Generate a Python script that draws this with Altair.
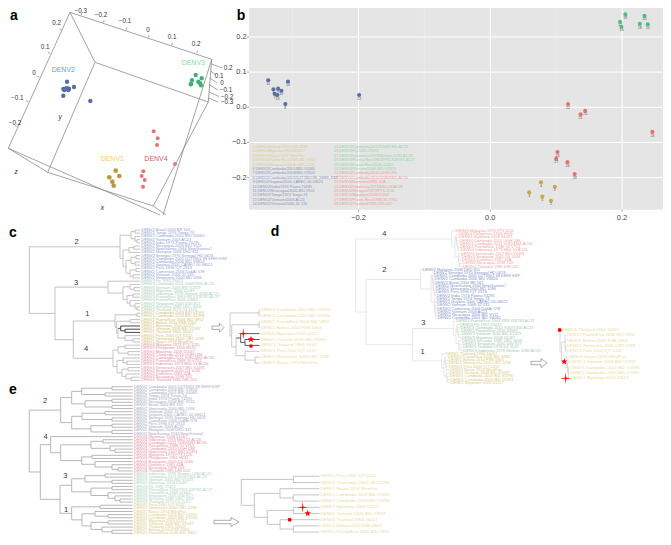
import altair as alt
import pandas as pd

F = "Liberation Sans"

# ---------- panel a: projected 3-D scatter ----------
a_box = [(70,12.3,211.7,59.3),(70,12.3,8.3,148.3),(70,12.3,95,62.3),(95,62.3,208.3,102),(95,62.3,47.7,172.3),
         (8.3,148.3,47.7,172.3),(8.3,148.3,160,215),(47.7,172.3,153.3,206),(153.3,206,208.3,102),
         (211.7,59.3,163,215),(208.3,102,211.7,59.3),(153.3,206,166,215)]
a_ticks = [(81,15,82,12.5),(103.3,22.7,104.3,20),(126,30,127,27.5),(148.3,37.3,149.3,35),(171.7,45,172.7,42.5),(196.7,53,197.7,50.5),
           (61.7,30,59.5,29),(50,53.3,47.8,52.3),(39.3,77.3,37,76.3),(28.3,101.7,26,100.7),(17.3,126.7,15,125.7),
           (211.7,64,222,68),(210.7,71,216,75),(210,78,217,83),(209.7,85,218,90),(209,92,219,96.5),(208.5,98,218,102)]
a_tick_labels = [("−0.3",80.7,11),("−0.2",101,14.7),("−0.1",125,20.7),("0",148,30),("0.1",172,37),("0.2",196,44.3),
                 ("0.2",56.7,22.7),("0.1",45,46.7),("0",34,73.3),("−0.1",17.3,98.3),("−0.2",15,123),
                 ("0.2",228,67.7),("0.1",219,75.7),("0",222,83.3),("−0.1",226,90.3),("−0.2",227,96.7),("−0.3",227,102)]
a_axis_names = [("y",60,116.7),("z",16,171.7),("x",102.3,208.3)]
a_groups = [("DENV2",63.3,70,"#5b9fd8"),("DENV3",193.3,62.7,"#86dba6"),("DENV1",112.3,159.3,"#f5cd72"),("DENV4",156,159.3,"#c0656a")]
a_blue = [(67,81.7),(74,87),(63.3,89),(65.3,88.7),(67,88.3),(68.3,90),(64.3,90),(69,88.7),(63.3,95.7),(90.3,101)]
a_green = [(195.7,75),(201.7,78.3),(192,80.3),(191,84),(198.3,81.7),(200,83.3),(201,85.3),(190.7,84.3)]
a_gold = [(115.7,170.7),(119.3,176),(109.3,177.3),(112.3,181.7),(113.7,185.7)]
a_red = [(153.7,131.3),(157.7,138.3),(157,145),(175,164),(143.3,171.3),(141.7,176),(144.7,180),(143,186.7)]

# ---------- panel b: MDS coordinates ----------
b_x = [-0.337,-0.329,-0.327,-0.322,-0.323,-0.317,-0.307,-0.311,-0.199,
       0.205,0.197,0.199,0.227,0.234,0.239,
       0.118,0.137,0.144,0.246,0.102,0.100,0.117,0.128,
       0.077,0.098,0.059,0.079,0.092]
b_y = [0.077,0.051,0.038,0.053,0.035,0.047,0.073,0.009,0.035,
       0.264,0.243,0.229,0.237,0.260,0.236,
       0.009,-0.020,-0.010,-0.070,-0.127,-0.146,-0.156,-0.190,
       -0.213,-0.226,-0.242,-0.254,-0.266]
b_id = [11,6,7,9,13,10,14,8,12, 19,17,16,18,20,15, 22,21,25,26,23,27,24,28, 4,2,3,5,1]
b_col = ["#5470a8"]*9 + ["#4cc07c"]*6 + ["#ea7070"]*8 + ["#c9a84a"]*5
b_leg1 = ["1 DENV1/Bolivia/2010-FSB-3363","2 DENV1/Myanmar/2005/61117","3 DENV1/Nauru/1974 WestPac","4 DENV1/Puerto Rico/2006-BID-V852",
          "5 DENV1/Venezuela/2000-OBT-1298","6 DENV2/Cambodia/2001/BID-V4065","7 DENV2/Cambodia/2006/BID-V3824",
          "8 DENV2/Cambodia/2005/D2T3901/98_KH99_KSP","9 DENV2/Guyana/2000-CAREC-00-08021","10 DENV2/India/1974 Poona 74295",
          "11 DENV2/Nicaragua/2006-BID-V511","12 DENV2/Tonga/1974 Tonga-74","13 DENV2/Vietnam/2003-AC21","14 DENV2/Vietnam/2006-32-135"]
b_leg2 = ["15 DENV3/Cambodia/2011/V0097300-AC23","16 DENV3/Fiji/1992-29472","17 DENV3/Indonesia/1978/Sleman-1280-AC25",
          "18 DENV3/Puerto-Rico/1963/PR3-328782-AC27","19 DENV3/Puerto Rico/2006-42665","20 DENV3/Vietnam/2006-BID-V1329",
          "21 DENV4/Cambodia/2010-UGH-U86","22 DENV4/Cambodia/2011/V0824361-AC30","23 DENV4/Dominica/1981-42A",
          "24 DENV4/Indonesia/1973/M60-53-AC26","25 DENV4/Malaysia/1973/P73-1120","26 DENV4/Myanmar/2008/61067",
          "27 DENV4/Puerto-Rico/1988-90-V751","28 DENV4/Thailand/1985-D85-052"]
b_leg_cols1 = ["#e0c987"]*5 + ["#8796bd"]*9
b_leg_cols2 = ["#95d5a8"]*6 + ["#ee9c9c"]*8
b_xticks = [-0.2, 0.0, 0.2]
b_xminor = [-0.3, -0.1, 0.1]
b_yticks = [-0.2, -0.1, 0.0, 0.1, 0.2]
b_xrange = [-0.366, 0.2621]
b_yrange = [-0.291, 0.2823]

# ---------- tree leaves ----------
B = ["Brazil 2004 BR 161","Tonga 1974 Tonga 74","Cambodia 2001 BID V4065","Vietnam 2003 AC21","India 1974 Poona 74295",
     "Nicaragua 2006 BID V511","NewGuinea 1944 NewGuineaC","Malaysia 2008 DKD 811","Senegal 1970 Senegal HD 0674",
     "Cambodia 2005 D2T3901 98 KH99 KSP","Cambodia 2006 BID V3824","Guyana 2000 CAREC 00 08021","Peru 1996 IQT 2913",
     "Cameroon 2006 DakAr 578","Vietnam 2006 32 135","Venezuela 2000 MD 1096"]
G = ["Fiji 1992 29472","Cambodia 2011 V0097300 AC23","Vietnam 2006 BID V1329","Myanmar 2008 61087","Indonesia 1978 Sleman 1280 AC25",
     "PuertoRico 1963 PR3 328782 AC27","PuertoRico 2006 42665","Singapore 2005 D30 817","SriLanka 1989 UNC 3009","Thailand 1973 D3 1120"]
Y = ["Cambodia 2003 BID V1991","Cambodia 2003 BID V1996","PuertoRico 2006 BID V852","Bolivia 2010 FSB 3363","Myanmar 2005 61117",
     "Vietnam 2008 BID V1937","Thailand 1964 16007","Peru 2000 IQT 6152","Venezuela 2000 OBT 1298","Nauru 1974 WestPac"]
R = ["Malaysia 1973 P73 1120","Philippines 1956 H241","Myanmar 2008 61067","Cambodia 2010 UGH U86","Cambodia 2011 V0824361 AC30",
     "PuertoRico 1988 90 V751","Indonesia 1973 M60 53 AC26","Venezuela 2007 BID V2491","Singapore 2005 D4 1036","Dominica 1981 42A",
     "Nicaragua 1998 703","Thailand 1985 D85 052"]
NAMES = {"B": ("DENV2", B), "G": ("DENV3", G), "Y": ("DENV1", Y), "R": ("DENV4", R)}

c_tree = [29.3,
  [120, [131,[135,"B0","B1"],[135,"B2",[137,"B3","B4"]]],
        [123,[129,[134,"B5","B6"],"B7"],[126,[131,[136,"B8","B9"],[135,"B10","B11"]],[130,[136,"B12","B13"],[133,"B14","B15"]]]]],
  [55,
    [108,"G0",[123,[130,"G1",[134,"G2","G3"]],[127,[133,"G4","G5"],[130,"G6",[135,"G7",[137,"G8","G9"]]]]]],
    [73.3,
      [115,[137,"Y0","Y1"],[116.7,[130,"Y2","Y3"],[118,[120.7,"Y4",[125,"Y5","Y6"]],[125,"Y7",[133,"Y8","Y9"]]]]],
      [113,[118,[125,"R0","R1"],[128,"R2","R3"]],[117,[123,"R4",[127,"R5","R6"]],[122,[128,"R7","R8"],[126,"R9",[131,"R10","R11"]]]]]]]]
c_inset = [230,[259,"Y0","Y1"],[231.7,[259,"Y2","Y3"],[236,[240.7,"Y4",[245,"Y5","Y6"]],[245,"Y7",[255,"Y8","Y9"]]]]]

d_red_leaves = ["R0","R1","R2","R3","R4","R5","R6","R7","R8","R9","R10","R11"]
d_red_tips = [455,458,458.5,459,459.5,459.5,460,460.5,461,461.5,462,462.5]
d_red_nodes = [451.7,455,456,456.5,457,457.5,458,458.5,459,459.5,460]
d_blue_leaves = ["B7","B8","B9","B10","B0","B6","B15","B12","B4","B1","B11","B14","B13","B3","B5","B2"]
d_blue_tips = [422,433,433.5,434,434,435,435,435.5,436,436,436,436.5,436.5,437,437,437]
d_blue_nodes = [420.7,431,432,432.5,433,433,433.5,434,434.5,434.5,435,435,435.5,435.5,436]
d_green_leaves = ["G5","G0","G1","G6","G2","G3","G8","G7","G9","G4"]
d_green_tips = [455.5,459,460,460.5,461,461,461.5,462,462,462.5]
d_green_nodes = [453.3,456,457,457.5,458,458.5,459,459.5,460]
d_gold_leaves = ["Y6","Y2","Y3","Y8","Y7","Y9","Y5","Y1","Y0","Y4"]
d_gold_tips = [445,447.5,448,448,448.5,449,449.5,449.5,450,450]
d_gold_nodes = [441.7,444,445,445.5,446,446.5,447,447.5,448]

d_inset = [560,("Y6",561.5),[561.5,[565,("Y2",566),("Y3",566),[565.5,("Y8",566),("Y7",566)]],
           [566,("Y9",567.7),[567.5,("Y5",570),[568.5,("Y1",569.4),("Y0",569.4),("Y4",570)]]]]]

e_tree = [29.3,
  [60.7,
    [71.7,[81.7,[112,"B9","B10"],[105,"B2","B1"]],[85,[112,"B4","B5"],[112,"B0","B15"]]],
    [71.7,[82,[105,"B14","B11"],[112,"B8","B13"]],[91,[112,"B12","B3"],[112,"B7","B6"]]]],
  [40.3,
    [50.7,"R2",[60.7,[91,[103,"R6","R4"],[110,"R5",[115,"R3","R7"]]],[81.7,[92,"R0","R1"],[95,"R8",[112,"R9",[118,"R10","R11"]]]]]],
    [60,
      [71.7,[85,[105,"G4","G1"],[112,"G2","G3"]],[91,[112,"G0","G5"],[108,"G6",[115,"G7",[120,"G8","G9"]]]]],
      [71.7,[100,"Y7","Y8"],[82,[95,"Y9",[108,"Y0","Y1"]],[91,[108,"Y4","Y5"],[102,"Y6",[112,"Y3","Y2"]]]]]]]]
e_inset = [241.3,[293.3,"Y7","Y8"],[254.3,[280,"Y9",[293.3,"Y0","Y1"]],
           [267.3,[293.3,"Y4","Y5"],[280,"Y6",[293.3,"Y3","Y2"]]]]]

c_clades = [("2",76.7,241.7),("3",76,282.7),("1",87.3,314.3),("4",86,349.3)]
d_clades = [("4",384.3,234.3),("2",384.3,270),("3",423.3,323.3),("1",422.7,351.7)]
e_clades = [("2",45,400.7),("4",45.7,437),("3",65.3,476),("1",66,510)]

COL_C = {"DENV1":"#cfc27c","DENV2":"#8ea0cc","DENV3":"#a6cdb4","DENV4":"#e08fa8"}
COL_D = {"DENV1":"#d8cb80","DENV2":"#8393c4","DENV3":"#9fc7ad","DENV4":"#ee9f9f"}
COL_E = {"DENV1":"#d8cc88","DENV2":"#a3a6bc","DENV3":"#aed3bc","DENV4":"#e88f9f"}
INSET = "#e6dca0"
STAR5 = "M0,-1L0.24,-0.32L0.95,-0.31L0.38,0.12L0.59,0.81L0,0.4L-0.59,0.81L-0.38,0.12L-0.95,-0.31L-0.24,-0.32Z"
STAR4 = "M0,-1L0.11,-0.11L1,0L0.11,0.11L0,1L-0.11,0.11L-1,0L-0.11,-0.11Z"

X0, X1, Y0, Y1 = 8, 663, 8, 537


def ladder(nodes, leaves, tips):
    """Comb-shaped clade: each node holds one leaf plus the rest of the clade."""
    items = [(l, t) for l, t in zip(leaves, tips)]
    inner = items[-1]
    for i in range(len(items) - 2, -1, -1):
        inner = [nodes[i], items[i], inner]
    return inner


def split_clade(nodes, leaves, tips):
    """First leaf branches off alone; the rest splits into two combs."""
    m = len(leaves) // 2 + 1
    return [nodes[0], (leaves[0], tips[0]),
            [nodes[1], ladder(nodes[2:m], leaves[1:m], tips[1:m]),
             ladder(nodes[m - 1:], leaves[m:], tips[m:])]]


d_tree = [355.7,
          split_clade(d_red_nodes, d_red_leaves, d_red_tips),
          [366, split_clade(d_blue_nodes, d_blue_leaves, d_blue_tips),
           [412.7, split_clade(d_green_nodes, d_green_leaves, d_green_tips),
            split_clade(d_gold_nodes, d_gold_leaves, d_gold_tips)]]]


def is_leaf(n):
    return isinstance(n, (str, tuple))


def leaves_of(n):
    if is_leaf(n):
        return [n if isinstance(n, str) else n[0]]
    out = []
    for c in n[1:]:
        out += leaves_of(c)
    return out


def build(tree, y0, dy, tip, colors, gap=1.3, line="#bdbdbd", dark=()):
    segs, labs, rows_ = [], [], [y0]

    def col(n):
        return "#333333" if dark and set(leaves_of(n)) <= set(dark) else line

    def walk(n, px):
        if is_leaf(n):
            key, t = (n, tip) if isinstance(n, str) else n
            y = rows_[0]
            rows_[0] += dy
            segs.append((px, y, t, y, col(n)))
            pre, names = NAMES[key[0]]
            c = colors if isinstance(colors, str) else colors[pre]
            labs.append((t + gap, y, pre + " " + names[int(key[1:])], c))
            return y
        ys = [walk(c, n[0]) for c in n[1:]]
        y = (ys[0] + ys[-1]) / 2
        segs.append((n[0], ys[0], n[0], ys[-1], col(n)))
        if px is not None:
            segs.append((px, y, n[0], y, col(n)))
        return y

    walk(tree, None)
    return (pd.DataFrame(segs, columns=["x", "y", "x2", "y2", "c"]),
            pd.DataFrame(labs, columns=["x", "y", "t", "c"]))


PX = alt.X("x:Q", scale=alt.Scale(domain=[X0, X1], nice=False, zero=False), axis=None)
PY = alt.Y("y:Q", scale=alt.Scale(domain=[Y1, Y0], nice=False, zero=False), axis=None)
figure = []


def segs_(df, width=0.8):
    figure.append(alt.Chart(df).mark_rule(strokeWidth=width).encode(
        x=PX, y=PY, x2="x2:Q", y2="y2:Q", color=alt.Color("c:N", scale=None)))


def text_(df, size, align="left", **kw):
    figure.append(alt.Chart(df).mark_text(align=align, baseline="middle", font=F, fontSize=size, **kw).encode(
        x=PX, y=PY, text="t:N", color=alt.Color("c:N", scale=None)))


def points_(pts, color, size):
    df = pd.DataFrame(pts, columns=["x", "y"])
    figure.append(alt.Chart(df).mark_circle(size=size, opacity=1, color=color).encode(x=PX, y=PY))


def marker(x, y, shape, size):
    df = pd.DataFrame({"x": [x], "y": [y]})
    figure.append(alt.Chart(df).mark_point(shape=shape, size=size, filled=True, opacity=1, color="#ff0000",
                                           strokeWidth=0).encode(x=PX, y=PY))


def arrow(xa, xb, yc, neck):
    df = pd.DataFrame({"x": [xa, neck, neck, xb, neck, neck, xa, xa],
                       "y": [yc-1.7, yc-1.7, yc-4.5, yc, yc+4.5, yc+1.7, yc+1.7, yc-1.7],
                       "i": list(range(8))})
    figure.append(alt.Chart(df).mark_line(color="#777777", strokeWidth=0.6).encode(x=PX, y=PY, order="i:Q"))


def tree_(segs, labs, size, width=0.8):
    segs_(segs, width)
    text_(labs, size)


def clades(items):
    text_(pd.DataFrame([(t, x, y, "#333333") for t, x, y in items], columns=["t", "x", "y", "c"]), 7.5, "center")


def letter(t, x, y):
    text_(pd.DataFrame({"t": [t], "x": [x], "y": [y], "c": ["#000000"]}), 14, "center", fontWeight="bold")


def rows(items, color):
    return pd.DataFrame([(t, x, y, color) for t, x, y in items], columns=["t", "x", "y", "c"])


# ---- a ----
segs_(pd.DataFrame([s + ("#8c8c8c",) for s in a_box], columns=["x", "y", "x2", "y2", "c"]), 0.8)
segs_(pd.DataFrame([s + ("#666666",) for s in a_ticks], columns=["x", "y", "x2", "y2", "c"]), 0.6)
text_(rows(a_tick_labels, "#333333"), 6.3, "center")
text_(rows(a_axis_names, "#222222"), 6.5, "center", fontStyle="italic")
text_(pd.DataFrame(a_groups, columns=["t", "x", "y", "c"]), 7, "center")
points_(a_blue, "#516fa9", 19)
points_(a_green, "#3fb272", 19)
points_(a_gold, "#b8993f", 22)
points_(a_red, "#e27676", 16)
letter("a", 14, 16)
letter("b", 241, 16)

# ---- c (with its inset and the letter d) ----
s, l = build(c_tree, 230, 3.2, 140, COL_C, line="#bdbdbd", dark=("Y4", "Y5", "Y6"))
tree_(s, l, 4.0, 0.9)
clades(c_clades)
s, l = build(c_inset, 310, 5.9, 259.5, INSET, line="#bdbdbd", dark=("Y4", "Y5", "Y6"))
tree_(s, l, 4.4, 0.8)
arrow(212, 224, 327.7, 219.5)
marker(243.3, 333.7, STAR4, 130)
marker(251, 339.3, STAR5, 50)
marker(251, 346, "circle", 14)
letter("c", 13, 233)
letter("d", 275, 232)

# ---- d ----
s, l = build(d_tree, 231, 3.23, 450, COL_D, gap=0.6, line="#dcdcdc")
tree_(s, l, 4.0, 0.7)
clades(d_clades)
s, l = build(d_inset, 330, 5.37, 566, INSET, gap=0.7, line="#c4c4c4")
tree_(s, l, 4.4, 0.6)
arrow(531, 547, 363, 541)
marker(559.7, 330, "circle", 16)
marker(564.3, 361.7, STAR5, 50)
marker(565.7, 378.3, STAR4, 130)

# ---- e ----
s, l = build(e_tree, 386.7, 3.12, 132.7, COL_E, line="#b0b0b0")
tree_(s, l, 4.0, 0.9)
clades(e_clades)
letter("e", 13, 390)
s, l = build(e_inset, 476.3, 6.2, 319.3, INSET, line="#b8b8b8")
tree_(s, l, 4.4, 0.8)
arrow(214, 239, 522, 231)
marker(302.7, 507.3, STAR4, 130)
marker(307.7, 513.3, STAR5, 50)
marker(289.7, 519.7, "circle", 16)

pixel_layer = alt.layer(*figure)

# ---- b: its own data scales, sized so the panel falls where it does in the figure ----
PER_X, PER_Y = 659.0, 351.7      # pixels per data unit
bx = alt.Scale(domain=[b_xrange[1] - (X1 - X0) / PER_X, b_xrange[1]], nice=False, zero=False)
by = alt.Scale(domain=[b_yrange[1] - (Y1 - Y0) / PER_Y, b_yrange[1]], nice=False, zero=False)
BX = alt.X("x:Q", scale=bx, axis=None)
BY = alt.Y("y:Q", scale=by, axis=None)
b_df = pd.DataFrame({"x": b_x, "y": b_y, "t": [str(i) for i in b_id], "c": b_col})
b_layers = [
    alt.Chart(pd.DataFrame({"x": [b_xrange[0]], "x2": [b_xrange[1]], "y": [b_yrange[0]], "y2": [b_yrange[1]]}))
       .mark_rect(color="#e5e5e5").encode(x=BX, x2="x2:Q", y=BY, y2="y2:Q"),
    alt.Chart(pd.DataFrame({"x": b_xminor, "y": [b_yrange[0]]*3, "y2": [b_yrange[1]]*3}))
       .mark_rule(color="#f1f1f1", strokeWidth=0.5).encode(x=BX, y=BY, y2="y2:Q"),
    alt.Chart(pd.DataFrame({"x": b_xticks, "y": [b_yrange[0]]*3, "y2": [b_yrange[1]]*3}))
       .mark_rule(color="#ffffff", strokeWidth=1).encode(x=BX, y=BY, y2="y2:Q"),
    alt.Chart(pd.DataFrame({"y": b_yticks, "x": [b_xrange[0]]*5, "x2": [b_xrange[1]]*5}))
       .mark_rule(color="#ffffff", strokeWidth=1).encode(x=BX, x2="x2:Q", y=BY),
    alt.Chart(pd.DataFrame({"x": b_xticks, "y": [b_yrange[0]]*3, "y2": [b_yrange[0] - 0.006]*3}))
       .mark_rule(color="#666666", strokeWidth=0.6).encode(x=BX, y=BY, y2="y2:Q"),
    alt.Chart(pd.DataFrame({"y": b_yticks, "x": [b_xrange[0]]*5, "x2": [b_xrange[0] - 0.003]*5}))
       .mark_rule(color="#666666", strokeWidth=0.6).encode(x=BX, x2="x2:Q", y=BY),
    alt.Chart(pd.DataFrame({"x": b_xticks, "y": [b_yrange[0] - 0.0235]*3, "t": ["−0.2", "0.0", "0.2"]}))
       .mark_text(font=F, fontSize=7.5, color="#444444", baseline="middle").encode(x=BX, y=BY, text="t:N"),
    alt.Chart(pd.DataFrame({"y": b_yticks, "x": [b_xrange[0] - 0.0035]*5, "t": ["−0.2", "−0.1", "0.0", "0.1", "0.2"]}))
       .mark_text(font=F, fontSize=7.5, color="#444444", align="right", baseline="middle").encode(x=BX, y=BY, text="t:N"),
    alt.Chart(b_df).mark_circle(size=17, opacity=1).encode(x=BX, y=BY, color=alt.Color("c:N", scale=None)),
    alt.Chart(b_df).mark_text(font=F, fontSize=3.6, dy=3.6, color="#555555").encode(x=BX, y=BY, text="t:N"),
]
b_rows = [-0.1128 - 0.01251 * i for i in range(14)]
for xpos, labels, cols in ((-0.361, b_leg1, b_leg_cols1), (-0.237, b_leg2, b_leg_cols2)):
    df = pd.DataFrame({"x": [xpos] * 14, "y": b_rows, "t": labels, "c": cols})
    b_layers.append(alt.Chart(df).mark_text(align="left", baseline="middle", font=F, fontSize=3.75).encode(
        x=BX, y=BY, text="t:N", color=alt.Color("c:N", scale=None)))
b_layer = alt.layer(*b_layers)

chart = (alt.layer(b_layer, pixel_layer)
         .resolve_scale(x="independent", y="independent")
         .properties(width=X1 - X0, height=Y1 - Y0, padding=0, autosize=alt.AutoSizeParams(type="none"))
         .configure_view(stroke=None))

chart.save("out.html", embed_options={"renderer": "svg", "actions": False})
